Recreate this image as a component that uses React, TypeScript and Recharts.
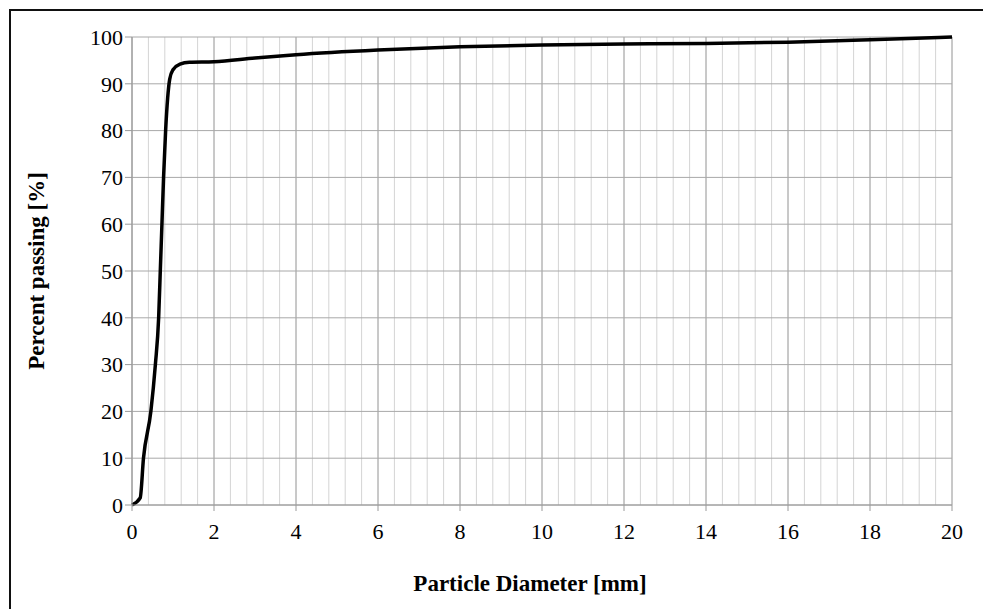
import { LineChart, Line, XAxis, YAxis, CartesianGrid } from 'recharts';

// particle size distribution
const diameters = [0, 0.2, 0.28, 0.46, 0.57, 0.65, 0.69, 0.73, 0.77, 0.82, 0.87, 0.92, 1.0, 1.17, 1.4, 2, 3, 4, 6, 8, 10, 12, 14, 16, 18, 20];
const passing = [0, 1.5, 10, 20, 30, 40, 50, 60, 70, 80, 87, 91, 93, 94.2, 94.6, 94.7, 95.5, 96.2, 97.2, 97.9, 98.3, 98.5, 98.6, 98.9, 99.4, 100];

const xTicks = [0, 2, 4, 6, 8, 10, 12, 14, 16, 18, 20];
const yTicks = [0, 10, 20, 30, 40, 50, 60, 70, 80, 90, 100];
// minor vertical gridlines every 0.4 mm
const xMinor = Array.from({ length: 51 }, (_, i) => Math.round(i * 0.4 * 10) / 10);

const data = diameters.map((d, i) => ({ d, p: passing[i] }));

const font = '"Liberation Serif", "Times New Roman", serif';

export default function App() {
    return (
        <div style={{ position: 'fixed', left: 0, top: 0, width: 983, height: 609, background: '#fff', overflow: 'hidden' }}>
            {/* chart frame, only top/left edges fall inside the picture */}
            <div style={{ position: 'absolute', left: 9, top: 9, width: 1000, height: 700, border: '2px solid #111', boxSizing: 'border-box' }} />
            <div style={{ position: 'absolute', left: 0, top: 0 }}>
                <LineChart width={983} height={609} data={data} margin={{ top: 37, right: 31, bottom: 74, left: 0 }}>
                    <CartesianGrid horizontal={false} verticalValues={xMinor} stroke="#d4d4d4" strokeWidth={1} />
                    <CartesianGrid verticalValues={xTicks} horizontalValues={yTicks} stroke="#a8a8a8" strokeWidth={1} />
                    <XAxis
                        dataKey="d"
                        type="number"
                        domain={[0, 20]}
                        ticks={xTicks}
                        interval={0}
                        height={30}
                        axisLine={{ stroke: '#9a9a9a' }}
                        tickLine={{ stroke: '#9a9a9a' }}
                        tickSize={6}
                        tickMargin={12}
                        tick={{ fill: '#000', fontSize: 22, fontFamily: font }}
                        label={{ value: 'Particle Diameter [mm]', position: 'bottom', offset: 40, dx: -12, fill: '#000', fontSize: 23, fontWeight: 'bold', fontFamily: font }}
                    />
                    <YAxis
                        type="number"
                        domain={[0, 100]}
                        ticks={yTicks}
                        interval={0}
                        width={132}
                        axisLine={{ stroke: '#9a9a9a' }}
                        tickLine={{ stroke: '#9a9a9a' }}
                        tickSize={7}
                        tick={{ fill: '#000', fontSize: 22, fontFamily: font }}
                        label={{ value: 'Percent passing [%]', angle: -90, position: 'insideLeft', offset: 36, fill: '#000', fontSize: 23, fontWeight: 'bold', fontFamily: font, style: { textAnchor: 'middle' } }}
                    />
                    <Line dataKey="p" type="monotone" stroke="#000" strokeWidth={3.5} dot={false} isAnimationActive={false} />
                </LineChart>
            </div>
        </div>
    );
}
